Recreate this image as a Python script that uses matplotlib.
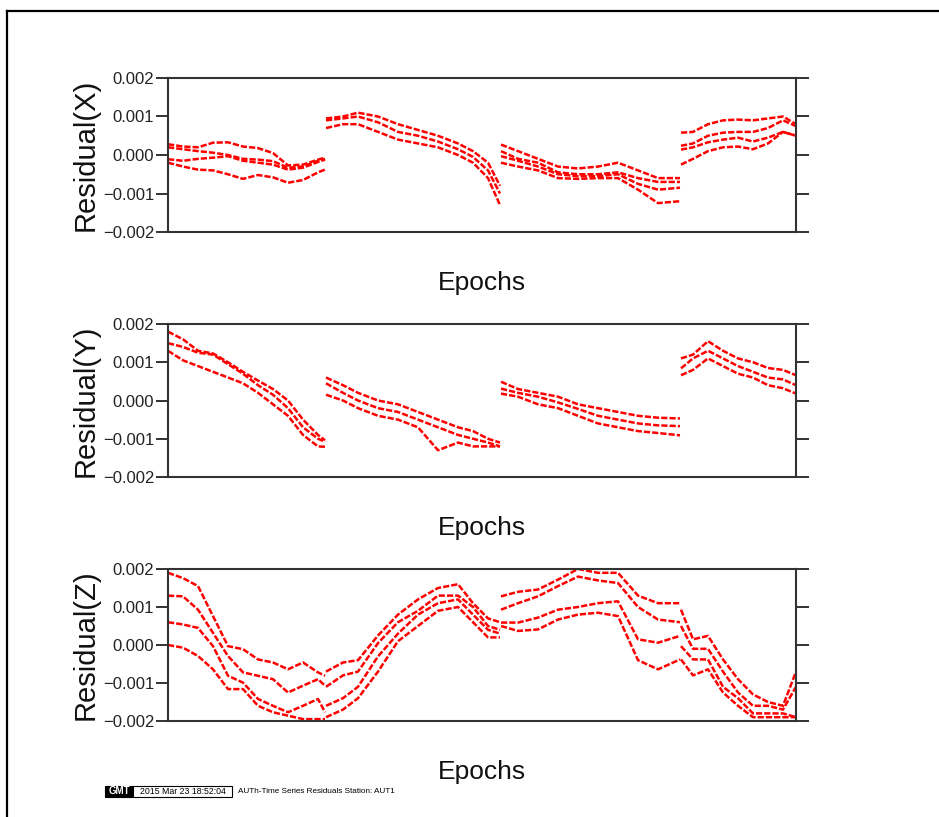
import matplotlib.pyplot as plt
from matplotlib.lines import Line2D
from matplotlib.patches import Rectangle

plt.rcParams["font.family"] = ["Liberation Sans", "DejaVu Sans"]

# epoch index of each reading, one list per data segment
SEG1_EPOCH = [0, 15, 30, 45, 60, 75, 90, 105, 120, 135, 150, 157]
SEG2_EPOCH = [158, 175, 190, 210, 230, 250, 270, 290, 305, 320, 332]
SEG3_EPOCH = [333, 350, 370, 390, 410, 430, 450, 470, 490, 512]
SEG4_EPOCH = [513, 525, 540, 555, 570, 585, 600, 615, 628]

# residuals X
X_SEG1 = [
    [0.00028, 0.00022, 0.00020, 0.00032, 0.00033, 0.00022, 0.00018, 0.00005, -0.00027, -0.00025, -0.00012, -0.00007],
    [0.00020, 0.00015, 0.00010, 0.00006, 0.00000, -0.00010, -0.00012, -0.00016, -0.00033, -0.00030, -0.00015, -0.00010],
    [-0.00011, -0.00015, -0.00010, -0.00007, -0.00003, -0.00015, -0.00020, -0.00025, -0.00038, -0.00033, -0.00018, -0.00012],
    [-0.00020, -0.00030, -0.00038, -0.00040, -0.00050, -0.00062, -0.00052, -0.00058, -0.00072, -0.00065, -0.00045, -0.00038],
]
X_SEG2 = [
    [0.00095, 0.00100, 0.00110, 0.00100, 0.00080, 0.00065, 0.00050, 0.00030, 0.00010, -0.00020, -0.00080],
    [0.00090, 0.00095, 0.00100, 0.00085, 0.00060, 0.00050, 0.00035, 0.00015, -0.00005, -0.00040, -0.00100],
    [0.00070, 0.00080, 0.00080, 0.00060, 0.00040, 0.00030, 0.00020, 0.00000, -0.00020, -0.00060, -0.00130],
]
X_SEG3 = [
    [0.00027, 0.00010, -0.00010, -0.00030, -0.00035, -0.00030, -0.00020, -0.00040, -0.00060, -0.00060],
    [0.00010, -0.00010, -0.00020, -0.00045, -0.00050, -0.00050, -0.00045, -0.00060, -0.00070, -0.00070],
    [-0.00003, -0.00015, -0.00030, -0.00050, -0.00055, -0.00055, -0.00050, -0.00075, -0.00090, -0.00085],
    [-0.00020, -0.00030, -0.00040, -0.00060, -0.00062, -0.00060, -0.00060, -0.00090, -0.00125, -0.00120],
]
X_SEG4 = [
    [0.00058, 0.00060, 0.00080, 0.00090, 0.00092, 0.00090, 0.00095, 0.00100, 0.00080],
    [0.00024, 0.00030, 0.00050, 0.00058, 0.00060, 0.00060, 0.00070, 0.00090, 0.00075],
    [0.00014, 0.00020, 0.00033, 0.00040, 0.00045, 0.00035, 0.00045, 0.00060, 0.00050],
    [-0.00025, -0.00010, 0.00010, 0.00020, 0.00022, 0.00015, 0.00030, 0.00060, 0.00050],
]

# residuals Y
Y_SEG1 = [
    [0.00180, 0.00160, 0.00130, 0.00123, 0.00100, 0.00075, 0.00052, 0.00030, 0.00000, -0.00050, -0.00090, -0.00104],
    [0.00150, 0.00140, 0.00125, 0.00120, 0.00095, 0.00070, 0.00040, 0.00015, -0.00020, -0.00070, -0.00100, -0.00108],
    [0.00130, 0.00105, 0.00090, 0.00075, 0.00060, 0.00045, 0.00020, -0.00010, -0.00040, -0.00090, -0.00120, -0.00121],
]
Y_SEG2 = [
    [0.00060, 0.00040, 0.00020, 0.00000, -0.00010, -0.00030, -0.00050, -0.00070, -0.00080, -0.00100, -0.00110],
    [0.00045, 0.00020, 0.00000, -0.00020, -0.00030, -0.00050, -0.00070, -0.00090, -0.00100, -0.00110, -0.00120],
    [0.00015, 0.00000, -0.00020, -0.00040, -0.00050, -0.00070, -0.00130, -0.00110, -0.00120, -0.00120, -0.00120],
]
Y_SEG3 = [
    [0.00049, 0.00030, 0.00020, 0.00010, -0.00010, -0.00020, -0.00030, -0.00040, -0.00045, -0.00047],
    [0.00031, 0.00020, 0.00010, -0.00005, -0.00022, -0.00040, -0.00050, -0.00060, -0.00065, -0.00067],
    [0.00018, 0.00010, -0.00010, -0.00020, -0.00040, -0.00060, -0.00070, -0.00080, -0.00085, -0.00091],
]
Y_SEG4 = [
    [0.00110, 0.00120, 0.00155, 0.00130, 0.00110, 0.00100, 0.00085, 0.00080, 0.00066],
    [0.00084, 0.00110, 0.00130, 0.00110, 0.00090, 0.00075, 0.00060, 0.00055, 0.00040],
    [0.00066, 0.00080, 0.00110, 0.00090, 0.00070, 0.00060, 0.00040, 0.00032, 0.00018],
]

# residuals Z
Z_SEG1 = [
    [0.00190, 0.00176, 0.00155, 0.00076, -0.00003, -0.00011, -0.00038, -0.00046, -0.00064, -0.00046, -0.00072, -0.00081],
    [0.00130, 0.00128, 0.00093, 0.00032, -0.00029, -0.00072, -0.00081, -0.00090, -0.00125, -0.00107, -0.00090, -0.00107],
    [0.00060, 0.00054, 0.00045, -0.00003, -0.00081, -0.00099, -0.00142, -0.00160, -0.00177, -0.00160, -0.00142, -0.00177],
    [0.00000, -0.00007, -0.00029, -0.00064, -0.00116, -0.00116, -0.00160, -0.00177, -0.00186, -0.00195, -0.00195, -0.00195],
]
Z_SEG2 = [
    [-0.00070, -0.00046, -0.00040, 0.00025, 0.00080, 0.00120, 0.00150, 0.00160, 0.00110, 0.00070, 0.00060],
    [-0.00110, -0.00080, -0.00070, 0.00005, 0.00060, 0.00090, 0.00130, 0.00130, 0.00100, 0.00050, 0.00040],
    [-0.00160, -0.00140, -0.00110, -0.00030, 0.00030, 0.00080, 0.00110, 0.00120, 0.00080, 0.00040, 0.00030],
    [-0.00190, -0.00170, -0.00140, -0.00070, 0.00010, 0.00050, 0.00090, 0.00100, 0.00060, 0.00020, 0.00020],
]
Z_SEG3 = [
    [0.00128, 0.00140, 0.00146, 0.00172, 0.00200, 0.00190, 0.00190, 0.00130, 0.00110, 0.00110],
    [0.00093, 0.00110, 0.00128, 0.00155, 0.00180, 0.00170, 0.00163, 0.00100, 0.00067, 0.00060],
    [0.00059, 0.00059, 0.00072, 0.00093, 0.00100, 0.00110, 0.00115, 0.00015, 0.00006, 0.00024],
    [0.00050, 0.00037, 0.00041, 0.00067, 0.00080, 0.00085, 0.00076, -0.00040, -0.00064, -0.00038],
]
Z_SEG4 = [
    [0.00093, 0.00015, 0.00024, -0.00038, -0.00090, -0.00130, -0.00150, -0.00160, -0.00070],
    [0.00050, -0.00010, -0.00010, -0.00070, -0.00125, -0.00160, -0.00160, -0.00170, -0.00110],
    [-0.00003, -0.00038, -0.00038, -0.00110, -0.00140, -0.00180, -0.00180, -0.00180, -0.00190],
    [-0.00038, -0.00080, -0.00064, -0.00125, -0.00160, -0.00190, -0.00190, -0.00190, -0.00190],
]

Y_TICKS = [-0.002, -0.001, 0.0, 0.001, 0.002]
Y_TICK_LABELS = ["\u22120.002", "\u22120.001", "0.000", "0.001", "0.002"]

panels = [
    ("Residual(X)", [X_SEG1, X_SEG2, X_SEG3, X_SEG4]),
    ("Residual(Y)", [Y_SEG1, Y_SEG2, Y_SEG3, Y_SEG4]),
    ("Residual(Z)", [Z_SEG1, Z_SEG2, Z_SEG3, Z_SEG4]),
]
seg_epochs = [SEG1_EPOCH, SEG2_EPOCH, SEG3_EPOCH, SEG4_EPOCH]

W, H = 939, 817
fig = plt.figure(figsize=(W / 100, H / 100), dpi=100)

# axes boxes in pixels: (left, top, right, bottom)
boxes = [(168, 78, 796, 232), (168, 324, 796, 477), (168, 569, 796, 721)]

for (label, segs), (l, t, r, b) in zip(panels, boxes):
    ax = fig.add_axes([l / W, 1 - b / H, (r - l) / W, (b - t) / H])
    for ep, curves in zip(seg_epochs, segs):
        for vals in curves:
            ax.plot(ep, vals, color="red", lw=1.8, linestyle=(0, (2.5, 0.8)))
    ax.set_xlim(0, 628)
    ax.set_ylim(-0.002, 0.002)
    ax.set_xticks([])
    ax.set_yticks(Y_TICKS)
    ax.set_yticklabels(Y_TICK_LABELS)
    ax.tick_params(axis="y", direction="out", length=9, width=1.3, color="#222222",
                   left=True, right=True, labelleft=True, labelright=False,
                   labelsize=12, pad=1, labelcolor="#222222")
    for s in ax.spines.values():
        s.set_color("#333333")
        s.set_linewidth(1.5)
    ax.set_ylabel(label, fontsize=21, color="#111111", labelpad=2)
    ax.set_xlabel("Epochs", fontsize=19, color="#111111", labelpad=28)

# outer frame (top and left edges visible)
fig.add_artist(Line2D([7 / W, 7 / W], [0, 1 - 11 / H], color="black", lw=1.6))
fig.add_artist(Line2D([7 / W, 1], [1 - 11 / H, 1 - 11 / H], color="black", lw=1.6))

# GMT time stamp
fig.add_artist(Rectangle((105 / W, 1 - 797 / H), 28 / W, 11 / H, facecolor="black",
                         edgecolor="black", lw=0.8))
fig.text(119 / W, 1 - 791.5 / H, "GMT", color="white", fontsize=7, ha="center",
         va="center", fontweight="bold")
fig.add_artist(Rectangle((133 / W, 1 - 797 / H), 99 / W, 11 / H, facecolor="white",
                         edgecolor="black", lw=0.8))
fig.text(182.5 / W, 1 - 791.5 / H, "2015 Mar 23 18:52:04", color="black", fontsize=6.3,
         ha="center", va="center")
fig.text(238 / W, 1 - 791.5 / H, "AUTh-Time Series Residuals Station: AUT1",
         color="black", fontsize=5.9, ha="left", va="center")

plt.savefig("out.png", dpi=100)
